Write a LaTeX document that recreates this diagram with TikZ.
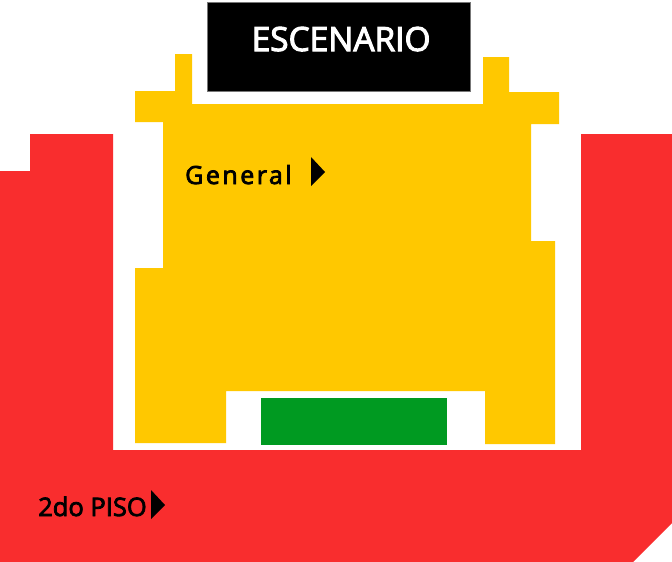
\documentclass[tikz,border=0pt]{standalone}
\usepackage{fontspec}
\setmainfont{Open Sans}
\newfontfamily\semi[FakeBold=3]{Open Sans}
\newfontfamily\semis[FakeBold=3,LetterSpace=10]{Open Sans}
\definecolor{redzone}{HTML}{F92D2E}
\definecolor{yellowzone}{HTML}{FFC800}
\definecolor{greenzone}{HTML}{009A21}
\definecolor{stageedge}{HTML}{777777}
\tikzset{
  zone/.style={draw=none},
  lbl/.style={inner sep=0pt,anchor=base west,text=black},
}
\begin{document}
\begin{tikzpicture}[x=1pt,y=-1pt]
\useasboundingbox (0,0) rectangle (672,562);
\fill[white] (0,0) rectangle (672,562);
% second floor
\fill[redzone,zone] (0,171) -- (30,171) -- (30,134) -- (113,134) -- (113,450) -- (581,450) -- (581,134) -- (672,134) -- (672,523) -- (633,562) -- (0,562) -- cycle;
% general
\fill[yellowzone,zone] (175,54) -- (192,54) -- (192,104) -- (483,104) -- (483,57) -- (509,57) -- (509,92) -- (559,92) -- (559,124) -- (531,124) -- (531,241) -- (555,241) -- (555,444) -- (485,444) -- (485,391) -- (226,391) -- (226,443) -- (135,443) -- (135,268) -- (163,268) -- (163,122) -- (135,122) -- (135,91) -- (175,91) -- cycle;
% green
\fill[greenzone,zone] (261,398) rectangle (447,445);
% stage
\filldraw[fill=black,draw=stageedge,line width=0.5pt] (207.3,2) rectangle (470.3,91.3);
\node[lbl,text=white,font=\fontsize{33.4}{35}\selectfont\semi] (stage) at (251.5,51) {ESCENARIO};
\node[lbl,font=\fontsize{25}{27}\selectfont\semis] (gen) at (185,184) {General};
\node[lbl,font=\fontsize{25.5}{27}\selectfont\semi] (piso) at (38,516) {2do PISO};
\fill[black] (311,157) -- (325,172) -- (311,186) -- cycle;
\fill[black] (151,490) -- (165,505) -- (151,519) -- cycle;
\end{tikzpicture}
\end{document}
